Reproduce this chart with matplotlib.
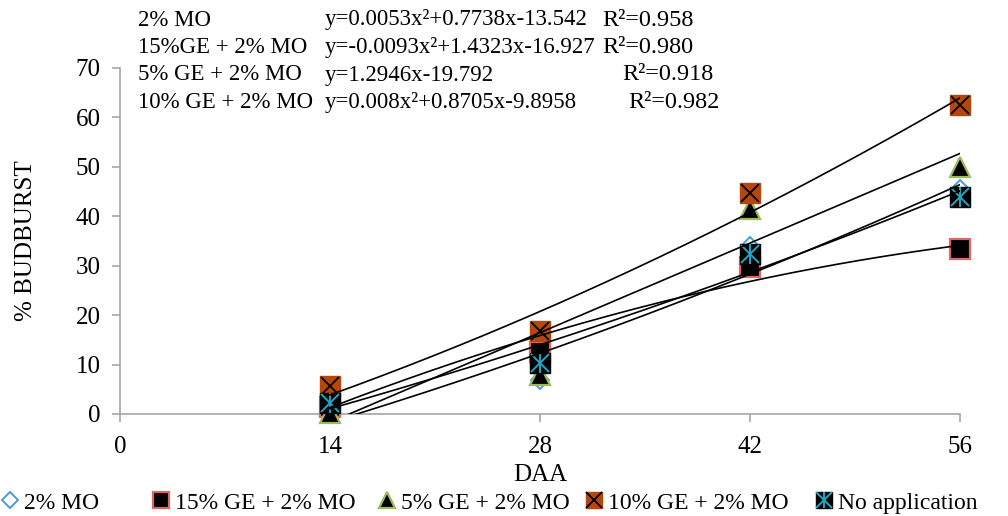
import numpy as np
import matplotlib
matplotlib.use("Agg")
import matplotlib.pyplot as plt
from matplotlib.legend_handler import HandlerTuple

plt.rcParams["font.family"] = ["Liberation Serif", "DejaVu Serif"]

DAA = [14, 28, 42, 56]
mo_2 = [0.0, 6.8, 34.0, 45.5]
ge15_mo2 = [1.5, 12.5, 29.8, 33.4]
ge5_mo2 = [0.3, 7.8, 41.5, 50.0]
ge10_mo2 = [5.7, 16.8, 44.7, 62.5]
no_app = [2.3, 10.3, 32.4, 43.9]

# trendline coefficients (highest power first), as printed on the chart
fit_mo2 = [0.0053, 0.7738, -13.542]
fit_ge15 = [-0.0093, 1.4323, -16.927]
fit_ge5 = [0.0, 1.2946, -19.792]
fit_ge10 = [0.008, 0.8705, -9.8958]

eq_rows = [
    ("2% MO", "y=0.0053x²+0.7738x-13.542", "R²=0.958"),
    ("15%GE + 2% MO", "y=-0.0093x²+1.4323x-16.927", "R²=0.980"),
    ("5% GE + 2% MO", "y=1.2946x-19.792", "R²=0.918"),
    ("10% GE + 2% MO", "y=0.008x²+0.8705x-9.8958", "R²=0.982"),
]
r2_x = [602, 602, 622, 628]

legend_labels = ["2% MO", "15% GE + 2% MO", "5% GE + 2% MO",
                 "10% GE + 2% MO", "No application"]
legend_x = [2, 153, 379, 586, 816]

ORANGE = "#b5470c"
CYAN = "#22a6c4"
SPINE = "#a6a6a6"

fig = plt.figure(figsize=(10.08, 5.16), dpi=100)
ax = fig.add_axes([120 / 1008, 1 - 414 / 516, 840 / 1008, 346 / 516])

ms = 14
h1, = ax.plot(DAA, mo_2, ls="none", marker="D", ms=9.5, mfc="white",
              mec="#4a9ad4", mew=1.4, clip_on=False, zorder=3)
h2, = ax.plot(DAA, ge15_mo2, ls="none", marker="s", ms=ms, mfc="black",
              mec="#e06666", mew=1.6, clip_on=False, zorder=3)
h3, = ax.plot(DAA, ge5_mo2, ls="none", marker="^", ms=ms, mfc="black",
              mec="#9bbb59", mew=1.6, clip_on=False, zorder=3)
h4a, = ax.plot(DAA, ge10_mo2, ls="none", marker="s", ms=ms, mfc=ORANGE,
               mec=ORANGE, mew=1, clip_on=False, zorder=3)
h4b, = ax.plot(DAA, ge10_mo2, ls="none", marker="x", ms=ms - 1, mec="black",
               mew=1.3, clip_on=False, zorder=3)
h5a, = ax.plot(DAA, no_app, ls="none", marker="s", ms=ms, mfc="black",
               mec="black", mew=1, clip_on=False, zorder=3)
h5b, = ax.plot(DAA, no_app, ls="none", marker="x", ms=ms - 1, mec=CYAN,
               mew=1.4, clip_on=False, zorder=3)
h5c, = ax.plot(DAA, no_app, ls="none", marker="|", ms=ms, mec=CYAN,
               mew=1.4, clip_on=False, zorder=3)

# trendlines
xs = np.linspace(14, 56, 200)
fit_noapp = np.polyfit(DAA, no_app, 2)
for coef in [fit_mo2, fit_ge15, fit_ge5, fit_ge10, fit_noapp]:
    ax.plot(xs, np.polyval(coef, xs), color="black", lw=1.2, zorder=4)

ax.set_xlim(0, 56)
ax.set_ylim(0, 70)
ax.set_xticks([0, 14, 28, 42, 56])
ax.set_yticks(range(0, 71, 10))
for s in ["top", "right"]:
    ax.spines[s].set_visible(False)
for s in ["left", "bottom"]:
    ax.spines[s].set_color(SPINE)
    ax.spines[s].set_linewidth(1.2)
ax.tick_params(axis="both", direction="out", length=6, width=1.2,
               color=SPINE, labelsize=18, pad=8)
ax.tick_params(axis="x", pad=10)
ax.set_xlabel("DAA", fontsize=18, labelpad=4)
ax.set_ylabel("% BUDBURST", fontsize=18, labelpad=28)

# trendline equations
for i, (name, eq, r2) in enumerate(eq_rows):
    yy = 1 - (20 + 27.5 * i) / 516
    fig.text(138 / 1008, yy, name, fontsize=16.5, va="center")
    fig.text(325 / 1008, yy, eq, fontsize=16.5, va="center")
    fig.text(r2_x[i] / 1008, yy, r2, fontsize=17.5, va="center")

handles = [h1, h2, h3, (h4a, h4b), (h5a, h5b, h5c)]
for h, lab, lx in zip(handles, legend_labels, legend_x):
    leg = fig.legend([h], [lab], handler_map={tuple: HandlerTuple(ndivide=1)},
                     loc="center left", bbox_to_anchor=(lx / 1008, 1 - 503 / 516),
                     frameon=False, fontsize=17, handlelength=0.7,
                     handletextpad=0.25, borderaxespad=0, borderpad=0,
                     markerscale=0.85)

fig.savefig("out.png", dpi=100)
